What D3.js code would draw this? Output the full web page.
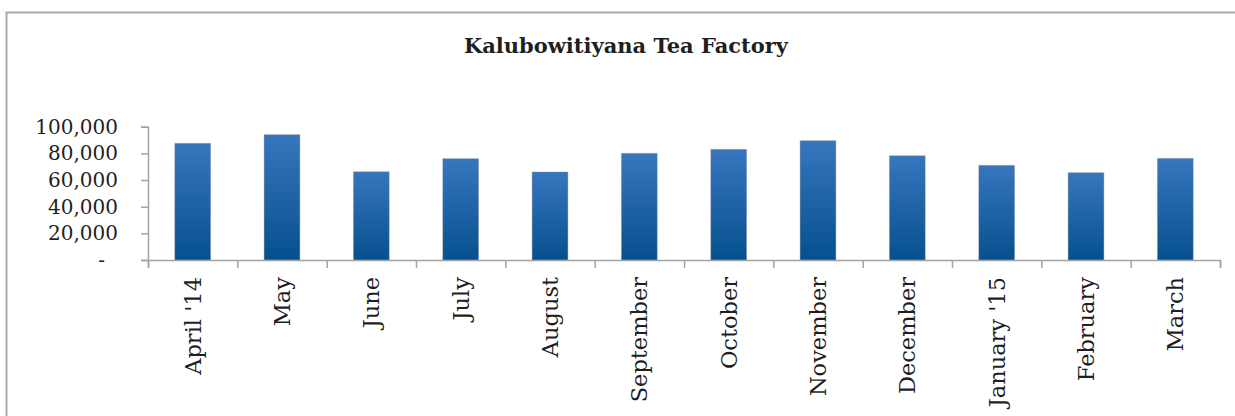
<!DOCTYPE html>
<html lang="en">
<head>
  <meta charset="UTF-8">
  <title>Kalubowitiyana Tea Factory</title>
  <script src="https://d3js.org/d3.v7.min.js"></script>
  <style>
    html, body { margin: 0; padding: 0; background: #fff; }
    svg { display: block; }
    text { font-family: "DejaVu Serif", "Liberation Serif", serif; fill: #1f1f1f; }
  </style>
</head>
<body>

  <script>
    ((window, document) => {
      "use strict";


      /**
       * -----------------------------------------------------------------------
       *  Data
       * -----------------------------------------------------------------------
       */

      const title = "Kalubowitiyana Tea Factory";

      const months = [
        "April '14", "May", "June", "July", "August", "September",
        "October", "November", "December", "January '15", "February", "March"
      ];

      const values = [
        87500, 94000, 66200, 76000, 66000, 80000,
        83000, 89500, 78200, 71000, 65500, 76200
      ];

      const yTicks = [0, 20000, 40000, 60000, 80000, 100000];


      /**
       * -----------------------------------------------------------------------
       *  Render
       * -----------------------------------------------------------------------
       */

      const W = 1235, H = 416;
      const left = 148, right = 1220, top = 126.7, bottom = 260;

      let svg = d3.select("body").append("svg")
        .attr("width", W).attr("height", H);

      // gradient for the bars
      let grad = svg.append("defs").append("linearGradient")
        .attr("id", "barFill")
        .attr("x1", 0).attr("y1", 0).attr("x2", 0).attr("y2", 1);
      grad.append("stop").attr("offset", "0%").attr("stop-color", "#3776bd");
      grad.append("stop").attr("offset", "100%").attr("stop-color", "#06508f");

      // chart frame (right and bottom edges run off the picture)
      svg.append("rect")
        .attr("x", 6.5).attr("y", 12.5)
        .attr("width", W).attr("height", H)
        .attr("fill", "none")
        .attr("stroke", "#a9a9a9")
        .attr("stroke-width", 2);

      svg.append("text")
        .attr("x", 626).attr("y", 53)
        .attr("text-anchor", "middle")
        .attr("font-size", 21)
        .attr("font-weight", "bold")
        .text(title);

      let x = d3.scaleBand()
        .domain(months)
        .range([left, right])
        .paddingInner(0.6)
        .paddingOuter(0.3);

      let xEdge = d3.scaleLinear()
        .domain([0, months.length])
        .range([left, right]);

      let y = d3.scaleLinear()
        .domain([0, 100000])
        .range([bottom, top]);

      // bars
      svg.append("g").selectAll("rect")
        .data(values)
        .enter().append("rect")
          .attr("x", (d, i) => x(months[i]))
          .attr("y", d => y(d))
          .attr("width", x.bandwidth())
          .attr("height", d => bottom - y(d))
          .attr("fill", "url(#barFill)")
          .attr("stroke", "rgba(120,130,150,0.35)")
          .attr("stroke-width", 1);

      // y axis
      let yAxis = svg.append("g")
        .attr("transform", `translate(${left},0)`)
        .call(d3.axisLeft(y)
          .tickValues(yTicks)
          .tickSize(7)
          .tickPadding(23)
          .tickFormat(d => d === 0 ? "-" : d3.format(",")(d)));

      yAxis.selectAll("text")
        .attr("font-size", 20)
        .attr("font-family", "DejaVu Serif, serif")
        .attr("fill", "#1f1f1f")
        .attr("dx", d => d === 0 ? -13 : 0);

      // x axis: ticks on category edges
      svg.append("g")
        .attr("transform", `translate(0,${bottom})`)
        .call(d3.axisBottom(xEdge)
          .tickValues(d3.range(months.length + 1))
          .tickSize(8)
          .tickFormat(""));

      // x axis: labels at band centers
      let xAxis = svg.append("g")
        .attr("transform", `translate(0,${bottom})`)
        .call(d3.axisBottom(x).tickSize(0).tickPadding(0));

      xAxis.select(".domain").remove();
      xAxis.selectAll("text")
        .attr("font-size", 22.5)
        .attr("font-family", "DejaVu Serif, serif")
        .attr("fill", "#1f1f1f")
        .attr("text-anchor", "end")
        .attr("transform", "translate(0,17) rotate(-90)")
        .attr("x", 0).attr("y", 0)
        .attr("dy", "0.35em");

      svg.selectAll(".domain, .tick line")
        .attr("stroke", "#a3a3a3")
        .attr("stroke-width", 1.5);

    })(window, document);
  </script>

</body>
</html>
